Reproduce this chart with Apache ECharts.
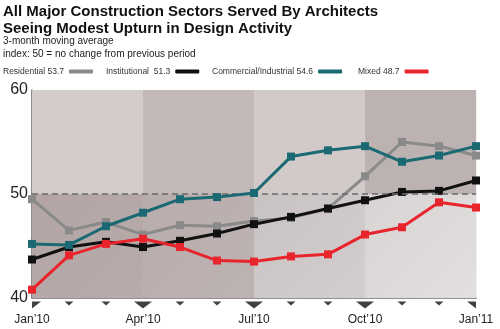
<!DOCTYPE html>
<html>
<head>
<meta charset="utf-8">
<script src="https://cdn.jsdelivr.net/npm/echarts@6/dist/echarts.min.js"></script>
<style>
  html, body { margin: 0; padding: 0; background: #ffffff; }
  #chart { width: 500px; height: 329px; }
</style>
</head>
<body>
<div id="chart"></div>
<script>
// Monthly categories, Jan 2010 through Jan 2011
const months = ['Jan\u201910', 'Feb\u201910', 'Mar\u201910', 'Apr\u201910', 'May\u201910', 'Jun\u201910',
  'Jul\u201910', 'Aug\u201910', 'Sep\u201910', 'Oct\u201910', 'Nov\u201910', 'Dec\u201910', 'Jan\u201911'];

// 3-month moving average of the billings index by sector
const residential  = [49.5, 46.5, 47.3, 46.1, 47.0, 46.9, 47.4, 47.7, 48.6, 51.7, 55.0, 54.6, 53.7];
const institutional = [43.7, 44.9, 45.4, 44.9, 45.5, 46.2, 47.1, 47.8, 48.6, 49.4, 50.2, 50.3, 51.3];
const commercial   = [45.2, 45.1, 46.9, 48.2, 49.5, 49.7, 50.1, 53.6, 54.2, 54.6, 53.1, 53.7, 54.6];
const mixed        = [40.8, 44.1, 45.2, 45.7, 44.9, 43.6, 43.5, 44.0, 44.2, 46.1, 46.8, 49.2, 48.7];

// Axis scale
const yTicks = [40, 50, 60];
const neutralLevel = 50;

const last = a => a[a.length - 1].toFixed(1);
const names = {
  res: 'Residential ' + last(residential),
  inst: 'Institutional  ' + last(institutional),
  com: 'Commercial/Industrial ' + last(commercial),
  mix: 'Mixed ' + last(mixed)
};

// Quarter bands behind the plot: upper (above 50) and lower (below 50) shades
const upperShades = ['#d4cccb', '#c2b9b8', '#d2cac9', '#bcb2b1'];
const lowerShades = [
  ['#b2a5a4', '#b8acab'],
  ['#b8adac', '#bdb3b2'],
  ['#c9c2c2', '#d3cece'],
  ['#d8d4d4', '#e2dfdf']
];
const bands = [];
for (let q = 0; q < 4; q++) {
  const a = months[q * 3], b = months[q * 3 + 3];
  bands.push([{ xAxis: a, yAxis: neutralLevel, itemStyle: { color: upperShades[q] } },
              { xAxis: b, yAxis: yTicks[2] }]);
  bands.push([{ xAxis: a, yAxis: yTicks[0], itemStyle: { color: {
      type: 'linear', x: 0, y: 0, x2: 1, y2: 1,
      colorStops: [{ offset: 0, color: lowerShades[q][0] }, { offset: 1, color: lowerShades[q][1] }] } } },
              { xAxis: b, yAxis: neutralLevel }]);
}

// Downward tick pointers under the axis; quarters get bigger ones, ends are half-pointers
const tickMarks = months.map((m, i) => {
  const n = months.length - 1;
  if (i === 0) return { value: [m, yTicks[0]], symbol: 'path://M0,0L1,0L0,1Z', symbolSize: [9, 7], symbolOffset: [4.5, 7] };
  if (i === n) return { value: [m, yTicks[0]], symbol: 'path://M0,0L1,0L1,1Z', symbolSize: [9, 7], symbolOffset: [-4.5, 7] };
  const big = i % 3 === 0;
  return { value: [m, yTicks[0]], symbol: 'path://M0,0L2,0L1,1Z',
           symbolSize: big ? [18, 7] : [9, 4], symbolOffset: [0, big ? 7 : 5.5] };
});

const lineSeries = (name, data, color, z) => ({
  name, type: 'line', data, z,
  symbol: 'rect', symbolSize: 8, showSymbol: true,
  lineStyle: { color, width: 3 },
  itemStyle: { color },
  emphasis: { disabled: true },
  animation: false
});

const legendCommon = {
  top: 67, align: 'right', itemWidth: 24, itemHeight: 4, icon: 'roundRect',
  textStyle: { fontSize: 8.5, color: '#333', fontFamily: 'Liberation Sans' },
  selectedMode: false, itemGap: 0, padding: 0
};

const chart = echarts.init(document.getElementById('chart'), null, { renderer: 'canvas' });
chart.setOption({
  backgroundColor: '#ffffff',
  animation: false,
  title: [
    {
      text: 'All Major Construction Sectors Served By Architects\nSeeing Modest Upturn in Design Activity',
      left: 3, top: 3, padding: 0,
      textStyle: { fontFamily: 'Liberation Sans', fontWeight: 'bold', fontSize: 15, lineHeight: 17, color: '#111' }
    },
    {
      text: '3-month moving average\nindex: 50 = no change from previous period',
      left: 3, top: 35, padding: 0,
      textStyle: { fontFamily: 'Liberation Sans', fontWeight: 'normal', fontSize: 10, lineHeight: 13, color: '#222' }
    }
  ],
  legend: [
    Object.assign({}, legendCommon, { left: 3, data: [names.res] }),
    Object.assign({}, legendCommon, { left: 106, data: [names.inst] }),
    Object.assign({}, legendCommon, { left: 212, data: [names.com] }),
    Object.assign({}, legendCommon, { left: 358, data: [names.mix] })
  ],
  grid: { left: 32, right: 24, top: 90, bottom: 31, containLabel: false },
  xAxis: {
    type: 'category', data: months, boundaryGap: false,
    axisLine: { show: true, lineStyle: { color: '#6e6e6e', width: 1.5 } },
    axisTick: { show: false },
    axisLabel: {
      interval: i => i % 3 === 0, margin: 16,
      fontFamily: 'Liberation Sans', fontSize: 12, color: '#222'
    },
    splitLine: { show: true, interval: 0, lineStyle: { color: 'rgba(235,228,227,0.55)', width: 1 } }
  },
  yAxis: {
    type: 'value', min: yTicks[0], max: yTicks[2], interval: 10,
    axisLine: { show: true, lineStyle: { color: '#666', width: 1.5 } },
    axisTick: { show: false },
    splitLine: { show: false },
    axisLabel: { fontFamily: 'Liberation Sans', fontSize: 16, color: '#222', margin: 4 }
  },
  series: [
    {
      type: 'line', data: [], silent: true, z: 1,
      markArea: { silent: true, data: bands },
      markLine: {
        silent: true, symbol: 'none', label: { show: false },
        lineStyle: { color: '#6a6a6a', type: [6, 4], width: 1.5 },
        data: [{ yAxis: neutralLevel }]
      }
    },
    lineSeries(names.res, residential, '#8a8a8a', 3),
    lineSeries(names.inst, institutional, '#111111', 4),
    lineSeries(names.com, commercial, '#1b6a73', 5),
    lineSeries(names.mix, mixed, '#e8242c', 6),
    {
      type: 'scatter', data: tickMarks, silent: true, clip: false, z: 7,
      itemStyle: { color: '#111' }
    }
  ]
});
</script>
</body>
</html>
